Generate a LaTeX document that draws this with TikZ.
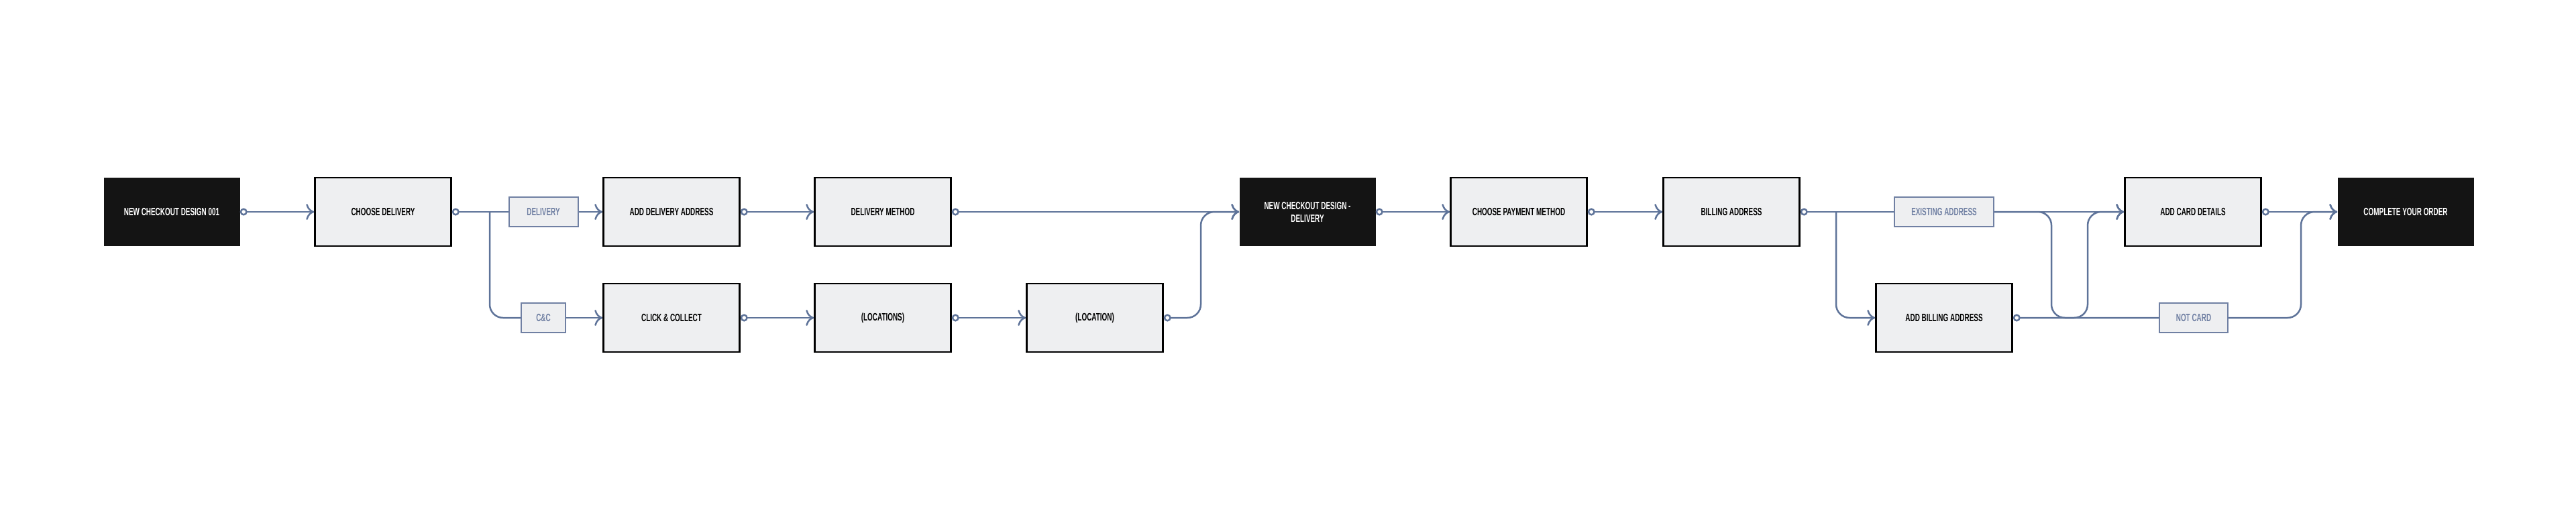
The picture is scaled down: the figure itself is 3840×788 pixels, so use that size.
\documentclass[tikz,border=0pt]{standalone}
\usepackage{fontspec}
\setmainfont{Liberation Sans}[FakeStretch=0.62]
\usetikzlibrary{arrows.meta}
\definecolor{ln}{HTML}{5E7399}
\definecolor{lb}{HTML}{7080A3}
\definecolor{bx}{HTML}{EEEFF1}
\tikzset{
 box/.style={draw=black,line width=2.5pt,fill=bx,minimum width=203pt,minimum height=102pt,inner sep=0pt,font=\fontsize{16}{19}\selectfont\bfseries,align=center},
 dark/.style={fill=black!92,minimum width=203pt,minimum height=102pt,inner sep=0pt,text=white,font=\fontsize{16}{19}\selectfont\bfseries,align=center},
 lbl/.style={draw=lb,line width=2pt,fill=bx,minimum height=44pt,inner sep=0pt,text=lb,font=\fontsize{16}{19}\selectfont\bfseries},
 con/.style={draw=ln,line width=2.5pt,rounded corners=20pt},
 ar/.style={con,-{To[length=12pt,width=24pt,line width=2.5pt]}},
 st/.style={con,{Circle[open,length=11pt,width=11pt,line width=2.5pt,fill=white]}-},
 star/.style={con,{Circle[open,length=11pt,width=11pt,line width=2.5pt,fill=white]}-{To[length=12pt,width=24pt,line width=2.5pt]}}
}
\begin{document}
\begin{tikzpicture}[x=1pt,y=-1pt]
\useasboundingbox (0,0) rectangle (3840,788);
\node[dark] (b1) at (256,316) {NEW CHECKOUT DESIGN 001};
\node[box] (cd) at (571,316) {CHOOSE DELIVERY};
\node[lbl,minimum width=103pt] (ld) at (810,316) {DELIVERY};
\node[lbl,minimum width=66pt] (lc) at (810,474) {C\&C};
\node[box] (ada) at (1001,316) {ADD DELIVERY ADDRESS};
\node[box] (dm) at (1316,316) {DELIVERY METHOD};
\node[box] (cc) at (1001,474) {CLICK \& COLLECT};
\node[box] (l1) at (1316,474) {(LOCATIONS)};
\node[box] (l2) at (1632,474) {(LOCATION)};
\node[dark] (ncd) at (1949,316) {NEW CHECKOUT DESIGN -\\DELIVERY};
\node[box] (cpm) at (2264,316) {CHOOSE PAYMENT METHOD};
\node[box] (ba) at (2581,316) {BILLING ADDRESS};
\node[lbl,minimum width=148pt] (le) at (2898,316) {EXISTING ADDRESS};
\node[box] (aba) at (2898,474) {ADD BILLING ADDRESS};
\node[lbl,minimum width=102pt] (ln) at (3270,474) {NOT CARD};
\node[box] (acd) at (3269,316) {ADD CARD DETAILS};
\node[dark] (co) at (3586,316) {COMPLETE YOUR ORDER};
\coordinate (k1) at (730,316); \coordinate (k2) at (730,474);
\coordinate (k3) at (1790,474); \coordinate (k4) at (1790,316);
\coordinate (k5) at (2737,316); \coordinate (k6) at (2737,474);
\coordinate (k7) at (3058,316); \coordinate (k8) at (3058,474);
\coordinate (k9) at (3112,474); \coordinate (k10) at (3112,316);
\coordinate (k11) at (3430,474); \coordinate (k12) at (3430,316);
\draw[star] (b1) -- (cd);
\draw[st] (cd.east) -- (ld.west);
\draw[ar] (ld) -- (ada);
\draw[con] (k1) -- (k2) -- (lc.west);
\draw[ar] (lc) -- (cc);
\draw[star] (ada) -- (dm);
\draw[star] (dm) -- (ncd);
\draw[star] (cc) -- (l1);
\draw[star] (l1) -- (l2);
\draw[star] (l2.east) -- (k3) -- (k4) -- (ncd.west);
\draw[star] (ncd) -- (cpm);
\draw[star] (cpm) -- (ba);
\draw[st] (ba.east) -- (le.west);
\draw[ar] (le) -- (acd);
\draw[ar] (k5) -- (k6) -- (aba.west);
\draw[con] (le.east) -- (k7) -- (k8) -- (ln.west);
\draw[star] (aba.east) -- (k9) -- (k10) -- (acd.west);
\draw[ar] (ln.east) -- (k11) -- (k12) -- (co.west);
\draw[star] (acd) -- (co);
\end{tikzpicture}
\end{document}
